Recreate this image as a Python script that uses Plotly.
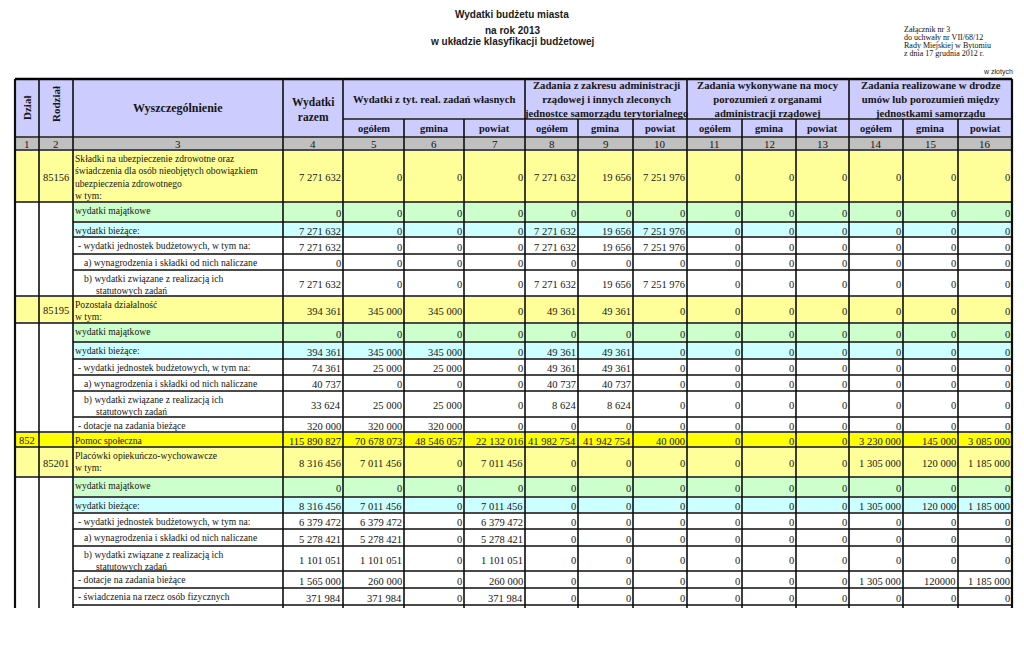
import plotly.graph_objects as go

# ------------------------------------------------------------------ data
title_lines = ["Wydatki budżetu miasta", "na rok 2013", "w układzie klasyfikacji budżetowej"]
note_lines = ["Załącznik nr 3", "do uchwały nr VII/68/12", "Rady Miejskiej w Bytomiu",
              "z dnia 17 grudnia 2012 r."]
unit_label = "w złotych"

header_left = ["Dział", "Rodział", "Wyszczególnienie", "Wydatki<br>razem"]
group_headers = [
    "Wydatki z tyt. real. zadań własnych",
    "Zadania z zakresu administracji<br>rządowej i innych zleconych<br>jednostce samorządu terytorialnego",
    "Zadania wykonywane na mocy<br>porozumień z organami<br>administracji rządowej",
    "Zadania realizowane w drodze<br>umów lub porozumień między<br>jednostkami samorządu",
]
sub_headers = ["ogółem", "gmina", "powiat"]
column_numbers = ["1", "2", "3", "4", "5", "6", "7", "8", "9", "10", "11", "12", "13", "14", "15", "16"]

row_kind = ["rozdzial", "majatkowe", "biezace", "zwykly", "zwykly", "zwykly",
            "rozdzial", "majatkowe", "biezace", "zwykly", "zwykly", "zwykly", "zwykly",
            "dzial",
            "rozdzial", "majatkowe", "biezace", "zwykly", "zwykly", "zwykly", "zwykly", "zwykly"]
dzial = ["", "", "", "", "", "",
         "", "", "", "", "", "", "",
         "852",
         "", "", "", "", "", "", "", ""]
rozdzial = ["85156", "", "", "", "", "",
            "85195", "", "", "", "", "", "",
            "",
            "85201", "", "", "", "", "", "", ""]
NB = "\u00a0"
opis = [
    "Składki na ubezpieczenie zdrowotne oraz<br>świadczenia dla osób nieobjętych obowiązkiem<br>ubezpieczenia zdrowotnego<br>w tym:",
    "wydatki majątkowe",
    "wydatki bieżące:",
    "- wydatki jednostek budżetowych, w tym na:",
    "a) wynagrodzenia i składki od nich naliczane",
    "b) wydatki związane z realizacją ich<br>" + NB * 5 + "statutowych zadań",
    "Pozostała działalność<br>w tym:",
    "wydatki majątkowe",
    "wydatki bieżące:",
    "- wydatki jednostek budżetowych, w tym na:",
    "a) wynagrodzenia i składki od nich naliczane",
    "b) wydatki związane z realizacją ich<br>" + NB * 5 + "statutowych zadań",
    "- dotacje na zadania bieżące",
    "Pomoc społeczna",
    "Placówki opiekuńczo-wychowawcze<br>w tym:",
    "wydatki majątkowe",
    "wydatki bieżące:",
    "- wydatki jednostek budżetowych, w tym na:",
    "a) wynagrodzenia i składki od nich naliczane",
    "b) wydatki związane z realizacją ich<br>" + NB * 5 + "statutowych zadań",
    "- dotacje na zadania bieżące",
    "- świadczenia na rzecz osób fizycznych",
]

razem = [7271632, 0, 7271632, 7271632, 0, 7271632,
         394361, 0, 394361, 74361, 40737, 33624, 320000,
         115890827,
         8316456, 0, 8316456, 6379472, 5278421, 1101051, 1565000, 371984]
wlasne_ogolem = [0, 0, 0, 0, 0, 0,
                 345000, 0, 345000, 25000, 0, 25000, 320000,
                 70678073,
                 7011456, 0, 7011456, 6379472, 5278421, 1101051, 260000, 371984]
wlasne_gmina = [0, 0, 0, 0, 0, 0,
                345000, 0, 345000, 25000, 0, 25000, 320000,
                48546057,
                0, 0, 0, 0, 0, 0, 0, 0]
wlasne_powiat = [0, 0, 0, 0, 0, 0,
                 0, 0, 0, 0, 0, 0, 0,
                 22132016,
                 7011456, 0, 7011456, 6379472, 5278421, 1101051, 260000, 371984]
zlecone_ogolem = [7271632, 0, 7271632, 7271632, 0, 7271632,
                  49361, 0, 49361, 49361, 40737, 8624, 0,
                  41982754,
                  0, 0, 0, 0, 0, 0, 0, 0]
zlecone_gmina = [19656, 0, 19656, 19656, 0, 19656,
                 49361, 0, 49361, 49361, 40737, 8624, 0,
                 41942754,
                 0, 0, 0, 0, 0, 0, 0, 0]
zlecone_powiat = [7251976, 0, 7251976, 7251976, 0, 7251976,
                  0, 0, 0, 0, 0, 0, 0,
                  40000,
                  0, 0, 0, 0, 0, 0, 0, 0]
porozum_ogolem = [0, 0, 0, 0, 0, 0,
                  0, 0, 0, 0, 0, 0, 0,
                  0,
                  0, 0, 0, 0, 0, 0, 0, 0]
porozum_gmina = [0, 0, 0, 0, 0, 0,
                 0, 0, 0, 0, 0, 0, 0,
                 0,
                 0, 0, 0, 0, 0, 0, 0, 0]
porozum_powiat = [0, 0, 0, 0, 0, 0,
                  0, 0, 0, 0, 0, 0, 0,
                  0,
                  0, 0, 0, 0, 0, 0, 0, 0]
umowy_ogolem = [0, 0, 0, 0, 0, 0,
                0, 0, 0, 0, 0, 0, 0,
                3230000,
                1305000, 0, 1305000, 0, 0, 0, 1305000, 0]
umowy_gmina = [0, 0, 0, 0, 0, 0,
               0, 0, 0, 0, 0, 0, 0,
               145000,
               120000, 0, 120000, 0, 0, 0, 120000, 0]
umowy_powiat = [0, 0, 0, 0, 0, 0,
                0, 0, 0, 0, 0, 0, 0,
                3085000,
                1185000, 0, 1185000, 0, 0, 0, 1185000, 0]
# cell printed without thousands separator in the source (row index, column number)
unformatted_cells = {(20, 15)}

value_columns = [razem, wlasne_ogolem, wlasne_gmina, wlasne_powiat,
                 zlecone_ogolem, zlecone_gmina, zlecone_powiat,
                 porozum_ogolem, porozum_gmina, porozum_powiat,
                 umowy_ogolem, umowy_gmina, umowy_powiat]

# ------------------------------------------------------------------ layout / style
# page body has an 8px margin; the figure is sized so the page does not scroll and
# the axis ranges are shifted so that data units equal page pixels
PAGE_W, PAGE_H, OFF = 1024, 669, 8
FIG_W, FIG_H = PAGE_W - 2 * OFF, PAGE_H - 2 * OFF
SERIF = "Liberation Serif, Times New Roman, serif"
SANS = "Liberation Sans, Arial, sans-serif"
TXT = "#161616"

COL_EDGES = [15, 39, 73, 283, 343, 404, 464, 525, 578, 633, 687, 742, 796, 849, 903, 958, 1012]
GROUP_INNER = {5, 6, 8, 9, 11, 12, 14, 15}
HEAD_TOP, HEAD_SPLIT, HEAD_BOTTOM = 79, 119, 137
ROW_EDGES = [150, 202, 222, 237, 254, 270, 296, 323, 342, 359, 375, 391, 417, 432, 447,
             477, 497, 513, 529, 546, 571, 588, 605]
TABLE_END = 608
INDENT = {"- ": 3, "a)": 9, "b)": 9}

FILL = {"rozdzial": "#FFFF99", "dzial": "#FFFF00", "majatkowe": "#CCFFCC",
        "biezace": "#CCFFFF", "zwykly": None}
HEAD_FILL = "#CCCCFF"
NUM_FILL = "#C0C0C0"
VLINE = "#0d0d0d"
HLINE = "#4a4a4a"

fig = go.Figure()
fig.add_trace(go.Scatter(x=[OFF, OFF + FIG_W], y=[OFF, OFF + FIG_H], mode="markers",
                         marker=dict(opacity=0), hoverinfo="skip", showlegend=False))

shapes = []
ann = []


def rect(x0, x1, y0, y1, color):
    shapes.append(dict(type="rect", xref="x", yref="y", x0=x0, x1=x1, y0=y0, y1=y1,
                       fillcolor=color, line=dict(width=0), layer="below"))


def line(x0, y0, x1, y1, color, width):
    shapes.append(dict(type="line", xref="x", yref="y", x0=x0, x1=x1, y0=y0, y1=y1,
                       line=dict(color=color, width=width), layer="above"))


def text(x, y, s, size, family=SERIF, xa="center", ya="middle", align="center",
         angle=0, color=TXT):
    ann.append(dict(x=x, y=y, xref="x", yref="y", text=s, showarrow=False,
                    xanchor=xa, yanchor=ya, align=align, textangle=angle,
                    font=dict(family=family, size=size, color=color)))


def mid(a, b):
    return (a + b) / 2


# title + note
for s, yy in zip(title_lines, [14, 30, 41]):
    text(512, yy, "<b>" + s + "</b>", 10, family=SANS, color="#1a1a1a")
for s, yy in zip(note_lines, [29, 37, 45, 53]):
    text(902, yy, s, 8, xa="left", align="left", color="#111")
text(1015, 72, unit_label, 7, family=SANS, xa="right", color="#222")

# header fills
rect(COL_EDGES[0], COL_EDGES[-1], HEAD_TOP, HEAD_BOTTOM, HEAD_FILL)
rect(COL_EDGES[0], COL_EDGES[-1], HEAD_BOTTOM, ROW_EDGES[0], NUM_FILL)

# row fills
for i, kind in enumerate(row_kind):
    c = FILL[kind]
    y0, y1 = ROW_EDGES[i], ROW_EDGES[i + 1]
    if c:
        rect(COL_EDGES[2], COL_EDGES[-1], y0, y1, c)
        if kind in ("rozdzial", "dzial"):
            rect(COL_EDGES[0], COL_EDGES[2], y0, y1, c)

# header texts
text(mid(COL_EDGES[0], COL_EDGES[1]), 108, "<b>" + header_left[0] + "</b>", 11, angle=-90)
text(mid(COL_EDGES[1], COL_EDGES[2]), 104, "<b>" + header_left[1] + "</b>", 11, angle=-90)
text(mid(COL_EDGES[2], COL_EDGES[3]), 108, "<b>" + header_left[2] + "</b>", 12)
text(mid(COL_EDGES[3], COL_EDGES[4]), 109, "<b>" + header_left[3] + "</b>", 11.5)
for g, s in enumerate(group_headers):
    x0, x1 = COL_EDGES[4 + 3 * g], COL_EDGES[7 + 3 * g]
    text(mid(x0, x1), mid(HEAD_TOP, HEAD_SPLIT), "<b>" + s + "</b>", 10.7)
    for k in range(3):
        text(mid(COL_EDGES[4 + 3 * g + k], COL_EDGES[5 + 3 * g + k]),
             mid(HEAD_SPLIT, HEAD_BOTTOM), "<b>" + sub_headers[k] + "</b>", 10.5)
for c, s in enumerate(column_numbers):
    text(mid(COL_EDGES[c], COL_EDGES[c + 1]), mid(HEAD_BOTTOM, ROW_EDGES[0]) + 0.5, s, 11)

# body texts
for i in range(len(row_kind)):
    y0, y1 = ROW_EDGES[i], ROW_EDGES[i + 1]
    ym = mid(y0, y1)
    if dzial[i]:
        text(mid(COL_EDGES[0], COL_EDGES[1]), ym + 1, dzial[i], 10.5)
    if rozdzial[i]:
        text(mid(COL_EDGES[1], COL_EDGES[2]), ym + 1, rozdzial[i], 10.5)
    ind = INDENT.get(opis[i][:2], 0)
    text(COL_EDGES[2] + ind, y0 + 0.5, opis[i], 9.6, xa="left", ya="top", align="left")
    for c, col in enumerate(value_columns):
        v = col[i]
        colnum = c + 4
        s = str(v) if (i, colnum) in unformatted_cells else f"{v:,}".replace(",", " ")
        text(COL_EDGES[colnum], ym + 1.5, s, 10.5, xa="right")

# grid lines
line(COL_EDGES[0], HEAD_TOP, COL_EDGES[-1], HEAD_TOP, "#000", 2.5)
line(COL_EDGES[4], HEAD_SPLIT, COL_EDGES[-1], HEAD_SPLIT, HLINE, 1.8)
line(COL_EDGES[0], HEAD_BOTTOM, COL_EDGES[-1], HEAD_BOTTOM, HLINE, 1.8)
for k, y in enumerate(ROW_EDGES):
    full = (k == 0 or row_kind[k - 1] in ("rozdzial", "dzial")
            or (k < len(row_kind) and row_kind[k] in ("rozdzial", "dzial")))
    line(COL_EDGES[0] if full else COL_EDGES[2], y, COL_EDGES[-1], y, HLINE, 1.8)
for j, x in enumerate(COL_EDGES):
    ytop = HEAD_SPLIT if j in GROUP_INNER else HEAD_TOP
    w = 2.2 if j in (0, len(COL_EDGES) - 1) else 1.6
    line(x, ytop, x, TABLE_END, VLINE, w)

fig.update_layout(
    width=FIG_W, height=FIG_H, margin=dict(l=0, r=0, t=0, b=0),
    paper_bgcolor="white", plot_bgcolor="white",
    xaxis=dict(range=[OFF, OFF + FIG_W], visible=False, fixedrange=True),
    yaxis=dict(range=[OFF + FIG_H, OFF], visible=False, fixedrange=True),
    shapes=shapes, annotations=ann, showlegend=False,
)
fig.write_html("out.html")
